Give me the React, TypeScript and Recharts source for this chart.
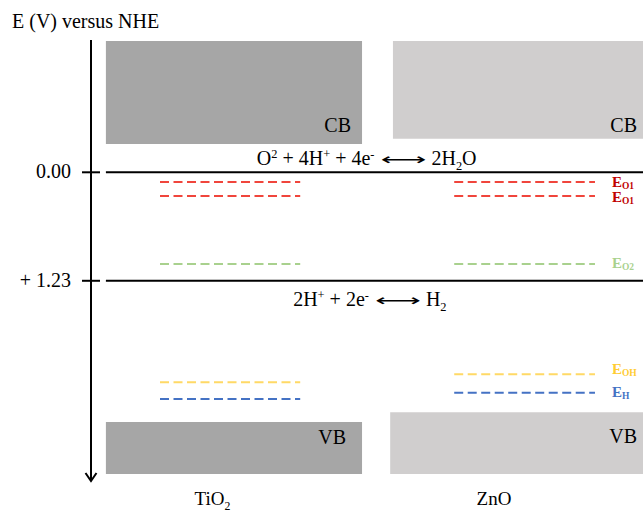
import React from "react";
import { ComposedChart, XAxis, YAxis, ReferenceArea, ReferenceLine, ReferenceDot } from "recharts";

const SERIF = '"Liberation Serif", "Times New Roman", serif';
const ARROW_FONT = '"DejaVu Sans", sans-serif';

// Potential scale, V versus NHE (drawn increasing downward)
const potentialDomain: [number, number] = [-1.5, 3.5];
const potentialTicks = [0, 1.23];
const potentialTickLabels = ["0.00", "+ 1.23"];

// Semiconductors and where their names sit on the 0–100 horizontal scale
const materials = ["TiO2", "ZnO"];
const materialX = [22, 73];

// Band edges [upper, lower] in V
const tio2Cb = [-1.49, -0.32];
const tio2Vb = [2.83, 3.42];
const znoCb = [-1.49, -0.38];
const znoVb = [2.72, 3.42];

// Water redox potentials marked by solid lines
const redoxLevels = [0, 1.23];

// Defect / adsorbate levels (V) for each oxide
const levelNames = ["O1", "O1", "O2", "OH", "H"];
const levelsTiO2 = [0.11, 0.27, 1.04, 2.38, 2.57];
const levelsZnO = [0.11, 0.27, 1.04, 2.29, 2.5];

// Half reactions
type Seg = [string, ("sup" | "sub")?];
const eqOxygen: { lhs: Seg[]; rhs: Seg[] } = {
  lhs: [["O"], ["2", "sup"], [" + 4H"], ["+", "sup"], [" + 4e"], ["-", "sup"]],
  rhs: [["2H"], ["2", "sub"], ["O"]],
};
const eqHydrogen: { lhs: Seg[]; rhs: Seg[] } = {
  lhs: [["2H"], ["+", "sup"], [" + 2e"], ["-", "sup"]],
  rhs: [["H"], ["2", "sub"]],
};

// ---- layout / styling ----
const tio2Span = [2.7, 49.1];
const znoCbSpan = [54.7, 100];
const znoVbSpan = [54.2, 100];
const tio2LevelSpan = [12.5, 37.9];
const znoLevelSpan = [65.8, 91.3];
const redoxSpan = [2.7, 100];

const levelStroke = ["#f0453c", "#f0453c", "#a9d18e", "#ffd966", "#4472c4"];
const levelText = ["#c00000", "#c00000", "#a9d18e", "#ffcc33", "#4472c4"];
const levelLabelDy = [4.5, 6, 4, 0, 4];

const TIO2_FILL = "#a6a6a6";
const ZNO_FILL = "#d0cece";

function segments(segs: Seg[], size: number) {
  let shift = 0;
  return segs.map(([t, kind], i) => {
    const target = kind === "sup" ? -7 : kind === "sub" ? 5 : 0;
    const dy = target - shift;
    shift = target;
    return (
      <tspan key={i} dy={dy} fontSize={kind ? size * 0.62 : size}>
        {t}
      </tspan>
    );
  });
}

// digits following a letter become subscripts: TiO2 -> TiO₂
function formula(name: string): Seg[] {
  const out: Seg[] = [];
  for (const ch of name) {
    const sub = /\d/.test(ch) && out.length > 0 && /[A-Za-z]$/.test(out[out.length - 1][0]);
    const kind = sub ? "sub" : undefined;
    const last = out[out.length - 1];
    if (last && last[1] === kind) last[0] += ch;
    else out.push(kind ? [ch, kind] : [ch]);
  }
  return out;
}

const equationShape = (eq: { lhs: Seg[]; rhs: Seg[] }, dy: number) => (props: any) => {
  const { cx, cy } = props;
  const y = cy + dy;
  return (
    <g fill="#000" fontFamily={SERIF} fontSize={20} style={{ whiteSpace: "pre" }}>
      <text x={cx - 29} y={y} textAnchor="end">
        {segments(eq.lhs, 20)}
      </text>
      <text x={cx - 23} y={y} textLength={46} lengthAdjust="spacingAndGlyphs" fontFamily={ARROW_FONT} fontSize={16}>
        ⟷
      </text>
      <text x={cx + 28} y={y}>
        {segments(eq.rhs, 20)}
      </text>
    </g>
  );
};

const cornerLabel = (text: string, dx: number, dy: number, fromTop: boolean) => (props: any) => {
  const { x, y, width, height } = props.viewBox;
  return (
    <text x={x + width + dx} y={(fromTop ? y : y + height) + dy} textAnchor="end" fontFamily={SERIF} fontSize={20} fill="#000">
      {text}
    </text>
  );
};

const levelLabel = (i: number) => (props: any) => {
  const { x, y, width } = props.viewBox;
  return (
    <text x={x + width + 17} y={y + levelLabelDy[i]} fontFamily={SERIF} fontWeight="bold" fill={levelText[i]} fontSize={15}>
      E
      <tspan dy={2} fontSize={9.5}>
        {levelNames[i].toUpperCase()}
      </tspan>
    </text>
  );
};

const PotentialTick = (props: any) => {
  const { x, y, payload } = props;
  const i = potentialTicks.indexOf(payload.value);
  return (
    <g>
      <line x1={x - 9} x2={x + 9} y1={y} y2={y} stroke="#000" strokeWidth={2} />
      <text x={x - 20} y={y + 6} textAnchor="end" fontFamily={SERIF} fontSize={20} fill="#000">
        {potentialTickLabels[i]}
      </text>
    </g>
  );
};

const MaterialTick = (props: any) => {
  const { x, y, payload } = props;
  const i = materialX.indexOf(payload.value);
  return (
    <text x={x} y={y + 24} textAnchor="middle" fontFamily={SERIF} fontSize={19} fill="#000">
      {segments(formula(materials[i]), 19)}
    </text>
  );
};

const AxisArrow = (props: any) => {
  const { cx, cy } = props;
  return <path d={`M${cx - 5.5},${cy - 8} L${cx},${cy} L${cx + 5.5},${cy - 8}`} fill="none" stroke="#000" strokeWidth={2} />;
};

export default function App() {
  return (
    <div style={{ position: "absolute", left: 0, top: 0, background: "#fff" }}>
      <ComposedChart width={643} height={510} data={[]} margin={{ top: 40, right: 0, bottom: 0, left: 0 }}>
        <XAxis
          type="number"
          dataKey="x"
          domain={[0, 100]}
          allowDataOverflow
          ticks={materialX}
          interval={0}
          height={29}
          axisLine={false}
          tickLine={false}
          tickSize={0}
          tickMargin={0}
          tick={<MaterialTick />}
        />
        <YAxis
          type="number"
          domain={potentialDomain}
          reversed
          allowDataOverflow
          ticks={potentialTicks}
          interval={0}
          width={91}
          axisLine={{ stroke: "#000", strokeWidth: 2 }}
          tickLine={false}
          tickSize={0}
          tickMargin={0}
          tick={<PotentialTick />}
          label={(props: any) => (
            <text x={props.viewBox.x + 12} y={props.viewBox.y - 12} fontFamily={SERIF} fontSize={20} fill="#000">
              E (V) versus NHE
            </text>
          )}
        />

        {/* conduction and valence bands */}
        <ReferenceArea x1={tio2Span[0]} x2={tio2Span[1]} y1={tio2Cb[0]} y2={tio2Cb[1]} fill={TIO2_FILL} fillOpacity={1} stroke="none" label={cornerLabel("CB", -11, -12, false)} />
        <ReferenceArea x1={znoCbSpan[0]} x2={znoCbSpan[1]} y1={znoCb[0]} y2={znoCb[1]} fill={ZNO_FILL} fillOpacity={1} stroke="none" label={cornerLabel("CB", -6, -7, false)} />
        <ReferenceArea x1={tio2Span[0]} x2={tio2Span[1]} y1={tio2Vb[0]} y2={tio2Vb[1]} fill={TIO2_FILL} fillOpacity={1} stroke="none" label={cornerLabel("VB", -16, 22, true)} />
        <ReferenceArea x1={znoVbSpan[0]} x2={znoVbSpan[1]} y1={znoVb[0]} y2={znoVb[1]} fill={ZNO_FILL} fillOpacity={1} stroke="none" label={cornerLabel("VB", -6, 31, true)} />

        {/* water redox levels */}
        {redoxLevels.map((v) => (
          <ReferenceLine
            key={`redox-${v}`}
            segment={[
              { x: redoxSpan[0], y: v },
              { x: redoxSpan[1], y: v },
            ]}
            stroke="#000"
            strokeWidth={2}
          />
        ))}

        {/* trap levels */}
        {levelsTiO2.map((v, i) => (
          <ReferenceLine
            key={`tio2-${i}`}
            segment={[
              { x: tio2LevelSpan[0], y: v },
              { x: tio2LevelSpan[1], y: v },
            ]}
            stroke={levelStroke[i]}
            strokeWidth={2}
            strokeDasharray="9 4.5"
          />
        ))}
        {levelsZnO.map((v, i) => (
          <ReferenceLine
            key={`zno-${i}`}
            segment={[
              { x: znoLevelSpan[0], y: v },
              { x: znoLevelSpan[1], y: v },
            ]}
            stroke={levelStroke[i]}
            strokeWidth={2}
            strokeDasharray="9 4.5"
            label={levelLabel(i)}
          />
        ))}

        <ReferenceDot x={56.6} y={redoxLevels[0]} ifOverflow="visible" shape={equationShape(eqOxygen, -7)} />
        <ReferenceDot x={55.6} y={redoxLevels[1]} ifOverflow="visible" shape={equationShape(eqHydrogen, 25)} />
        <ReferenceDot x={0} y={potentialDomain[1]} ifOverflow="visible" shape={<AxisArrow />} />
      </ComposedChart>
    </div>
  );
}
